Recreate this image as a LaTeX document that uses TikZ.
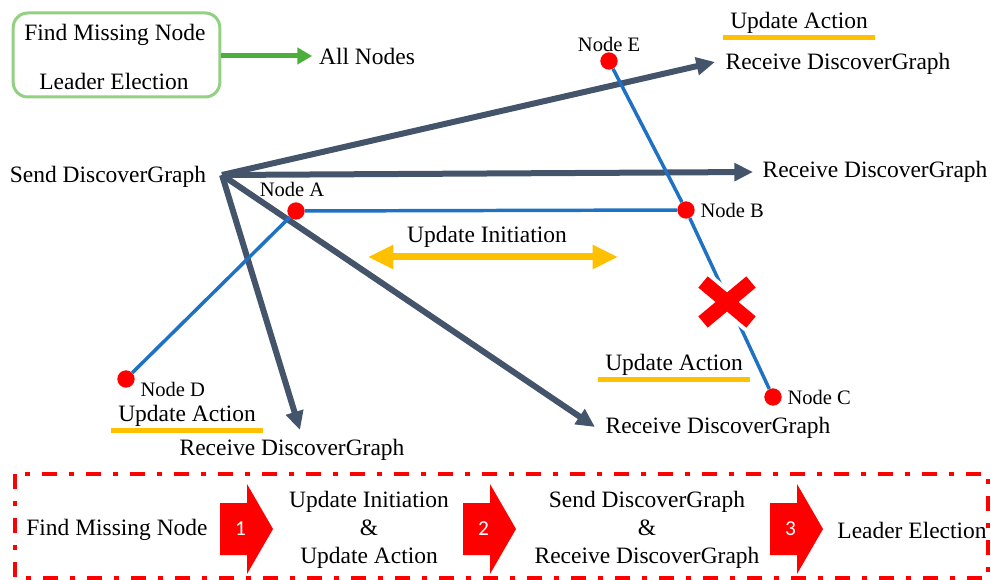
\documentclass[tikz,border=0pt]{standalone}
\usepackage{fontspec}
\setmainfont{Liberation Serif}
\newfontfamily\numfont{Carlito}
\usetikzlibrary{positioning,arrows.meta}

\definecolor{slate}{RGB}{68,84,106}
\definecolor{linkblue}{RGB}{31,113,196}
\definecolor{amber}{RGB}{255,192,0}
\definecolor{boxgreen}{RGB}{146,208,130}
\definecolor{arrgreen}{RGB}{76,175,60}

\tikzset{
  txt/.style={font=\fontsize{17.6}{21}\selectfont, inner sep=5pt},
  nodelbl/.style={font=\fontsize{15.4}{18}\selectfont, inner sep=3pt},
  dot/.style={circle, fill=red, inner sep=0pt, minimum size=13pt},
  link/.style={linkblue, line width=2.6pt},
  msg/.style={slate, line width=4.5pt, -{Triangle[length=14pt,width=13pt]}},
  uline/.style={amber, line width=3.75pt},
  utext/.style={txt, inner ysep=2.5pt},
  legendbox/.style={txt, draw=boxgreen, line width=2.25pt, rounded corners=11pt,
    minimum width=155pt, minimum height=63pt, align=center},
  frame/.style={red, line width=3pt, dash pattern=on 11pt off 9pt on 4pt off 9pt},
  crossgap/.style={white, line width=17pt},
  crossmark/.style={red, line width=11pt},
  steparrow/.pic={
    \fill[red] (-26.5,-26) -- (0.5,-26) -- (0.5,-45) -- (26.5,0)
      -- (0.5,45) -- (0.5,26) -- (-26.5,26) -- cycle;
    \node[text=white, font=\numfont\fontsize{16}{18}\selectfont] (-num) at (-6,0) {#1};
  }
}

\begin{document}
\begin{tikzpicture}[x=0.75pt, y=-0.75pt]
  \useasboundingbox (0,0) rectangle (991,580);

  % legend
  \node[legendbox] (legend) at (116.5,55) {};
  \node[txt] (leg1) at (115,35) {Find Missing Node};
  \node[txt] (leg2) at (114,81) {Leader Election};
  \node[txt] (allnodes) at (367,56) {All Nodes};
  \draw[arrgreen, line width=3.75pt, -{Triangle[length=11pt,width=12pt]}]
    (legend.east |- allnodes) -- (allnodes.west);

  % DiscoverGraph messages
  \node[txt] (send) at (108,177) {Send DiscoverGraph};
  \coordinate (src) at (222,175);
  \node[txt] (r1) at (838,64)  {Receive DiscoverGraph};
  \node[txt] (r2) at (875,172) {Receive DiscoverGraph};
  \node[txt] (r3) at (292,450) {Receive DiscoverGraph};
  \node[txt] (r4) at (718,428) {Receive DiscoverGraph};
  \coordinate (t1) at (715,62);
  \coordinate (t2) at (753,172);
  \coordinate (t3) at (300,430);
  \coordinate (t4) at (595,427);
  \foreach \t in {t1,t2,t3,t4}
    \draw[msg] (src) -- (\t);

  % nodes of the graph
  \node[dot] (A) at (296,211) {};
  \node[dot] (B) at (686,210) {};
  \node[dot] (C) at (773,397) {};
  \node[dot] (D) at (126,379) {};
  \node[dot] (E) at (609,61)  {};
  \node[nodelbl] (labA) [above=1pt of A, xshift=-3pt] {Node A};
  \node[nodelbl] (labB) [right=1pt of B] {Node B};
  \node[nodelbl] (labC) [right=1pt of C] {Node C};
  \node[nodelbl] (labD) [right=1pt of D, yshift=-8pt] {Node D};
  \node[nodelbl] (labE) [above=-3pt of E] {Node E};

  \draw[link] (A) -- (B);
  \draw[link] (A) -- (D);
  \draw[link] (E) -- (B) -- (C);

  % broken link
  \coordinate (cut) at (727,302);
  \draw[crossgap] ([shift={(-24,-20)}]cut) -- ([shift={(24,20)}]cut);
  \draw[crossgap] ([shift={(24,-20)}]cut) -- ([shift={(-24,20)}]cut);
  \draw[crossmark] ([shift={(-24,-20)}]cut) -- ([shift={(24,20)}]cut);
  \draw[crossmark] ([shift={(24,-20)}]cut) -- ([shift={(-24,20)}]cut);

  % update initiation
  \node[txt] (uinit) at (487,237) {Update Initiation};
  \coordinate (ul) at (368,257);
  \coordinate (ur) at (618,257);
  \draw[amber, line width=5.25pt,
    {Triangle[length=19pt,width=17pt]}-{Triangle[length=19pt,width=17pt]}] (ul) -- (ur);

  % update actions
  \node[utext] (ua1) at (799,23)  {Update Action};
  \node[utext] (ua2) at (674,365) {Update Action};
  \node[utext] (ua3) at (187,416) {Update Action};
  \foreach \u in {ua1,ua2,ua3}
    \draw[uline] (\u.south west) -- (\u.south east);

  % procedure
  \draw[frame] (15,474) rectangle (988,578);
  \node[txt] (f0) at (117,530) {Find Missing Node};
  \node[txt, align=center] (f1) at (369,530) {Update Initiation\\\&\\Update Action};
  \node[txt, align=center] (f2) at (647,530) {Send DiscoverGraph\\\&\\Receive DiscoverGraph};
  \node[txt] (f3) at (912,530) {Leader Election};
  \pic (st1) at (246.5,529) {steparrow=1};
  \pic (st2) at (489.5,529) {steparrow=2};
  \pic (st3) at (796.5,529) {steparrow=3};
\end{tikzpicture}
\end{document}
